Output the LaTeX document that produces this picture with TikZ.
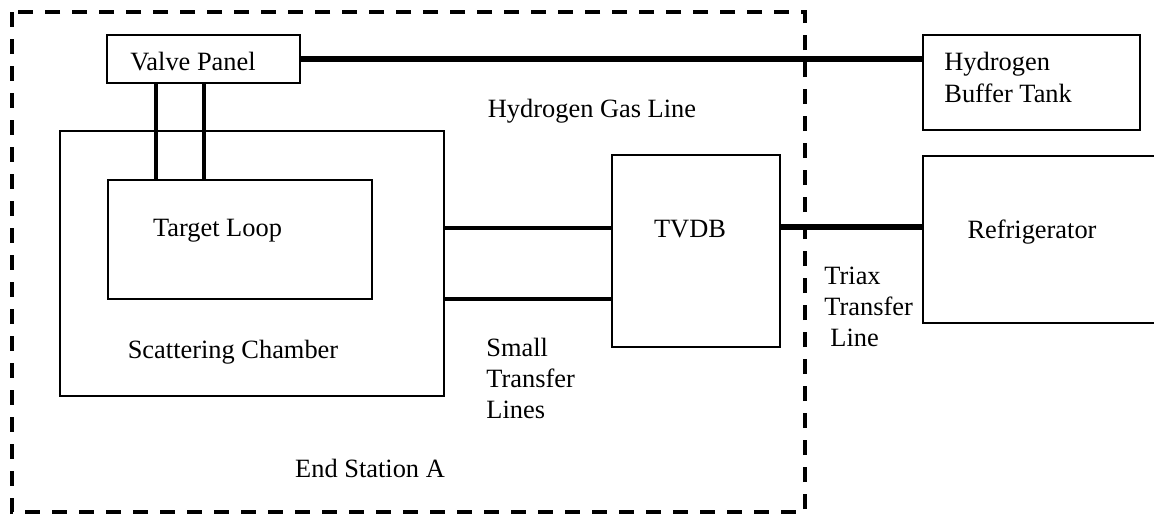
\documentclass[tikz,border=0pt]{standalone}
\usepackage{fontspec}
\setmainfont{Liberation Serif}
\usetikzlibrary{positioning}
\begin{document}
\begin{tikzpicture}
  [
    x=0.5pt, y=-0.5pt,
    unit/.style    = {draw, line width=1pt, inner sep=0pt},
    txt/.style     = {inner sep=0pt, font=\fontsize{13.2}{15.5}\selectfont},
    pipe/.style    = {line width=2pt},
    gasline/.style = {line width=3pt},
    station/.style = {line width=2pt, dash pattern=on 7.5pt off 6pt},
  ]

\useasboundingbox (0,0) rectangle (1154,516);

%End station border
\draw[station] (12,12) rectangle (805,512);

%Boxes (centre, width, height in pixels of the sketch)
\node[unit, minimum width=96.5pt, minimum height=24pt]   (valve)   at (203.5,59)   {};
\node[unit, minimum width=192pt,  minimum height=132.5pt] (chamber) at (252,263.5)  {};
\node[unit, minimum width=132pt,  minimum height=59.5pt]  (loop)    at (240,239.5)  {};
\node[unit, minimum width=84pt,   minimum height=96pt]    (tvdb)    at (696,251)    {};
\node[unit, minimum width=108.5pt,minimum height=47.5pt]  (tank)    at (1031.5,82.5){};
\node[unit, minimum width=123.5pt,minimum height=83.5pt]  (fridge)  at (1046.5,239.5){};

%Valve panel to target loop
\foreach \dx in {-23.75pt,0.25pt}
{
\draw[pipe] ([xshift=\dx]valve.south) -- ([xshift=\dx]valve.south |- loop.north);
}

%Gas line and triax line
\draw[gasline] (valve.east) -- (valve.east -| tank.west);
\draw[gasline] ([yshift=12pt]tvdb.east) -- ([yshift=12pt]tvdb.east -| fridge.west);

%Small transfer lines
\foreach \dy in {17.75pt,-17.75pt}
{
\draw[pipe] ([yshift=\dy]chamber.east) -- ([yshift=\dy]chamber.east -| tvdb.west);
}

%Labels (multi-line ones are set at the baseline of their last line)
\node[txt, anchor=base] (valvetext)   at (193,70)    {Valve Panel};
\node[txt, anchor=base] (gastext)     at (592,117)   {Hydrogen Gas Line};
\node[txt, anchor=base] (looptext)    at (217.5,236) {Target Loop};
\node[txt, anchor=base] (chambertext) at (233,358)   {Scattering Chamber};
\node[txt, anchor=base] (stationtext) at (370,477)   {End Station A};
\node[txt, anchor=base] (tvdbtext)    at (690,237)   {TVDB};
\node[txt, anchor=base] (fridgetext)  at (1032,238)  {Refrigerator};
\node[txt, anchor=base west, align=left] (smalltext) at (486,418) {Small\\Transfer\\Lines};
\node[txt, anchor=base west, align=left] (triaxtext) at (824,346) {Triax\\Transfer\\\hspace{3pt}Line};
\node[txt, anchor=base west, align=left, font=\fontsize{13.2}{16}\selectfont] (tanktext) at (944,102) {Hydrogen\\Buffer Tank};
\end{tikzpicture}
\end{document}
